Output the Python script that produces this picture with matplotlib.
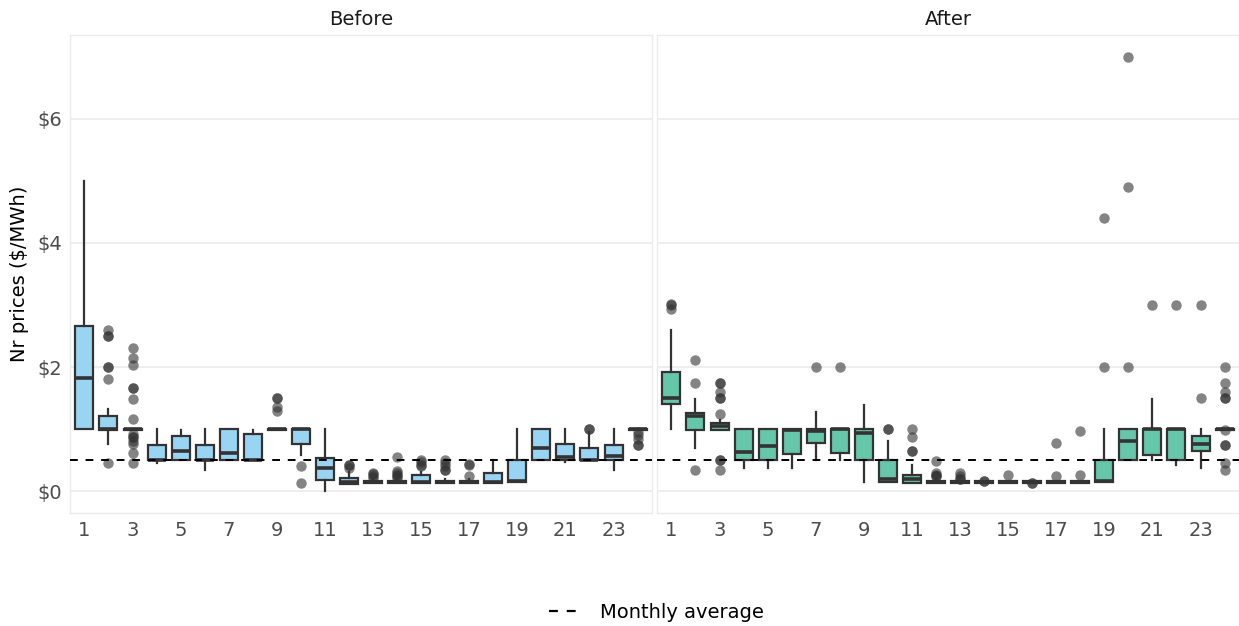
import matplotlib
matplotlib.use("Agg")
import matplotlib.pyplot as plt
from matplotlib.lines import Line2D

hours = list(range(1, 25))

# Before
before_med = [1.83, 1.0, 1.0, 0.5, 0.65, 0.5, 0.62, 0.5, 1.0, 1.0, 0.37, 0.15,
              0.15, 0.15, 0.15, 0.15, 0.15, 0.15, 0.17, 0.7, 0.55, 0.5, 0.57, 1.0]
before_q1 = [1.0, 0.98, 0.98, 0.5, 0.5, 0.5, 0.5, 0.5, 0.98, 0.76, 0.18, 0.12,
             0.13, 0.13, 0.13, 0.13, 0.13, 0.13, 0.15, 0.5, 0.5, 0.5, 0.5, 0.98]
before_q3 = [2.66, 1.21, 1.0, 0.75, 0.89, 0.75, 1.0, 0.93, 1.0, 1.0, 0.54, 0.22,
             0.17, 0.17, 0.27, 0.17, 0.17, 0.30, 0.5, 1.0, 0.76, 0.70, 0.74, 1.0]
before_lo = [1.0, 0.76, 0.98, 0.45, 0.5, 0.34, 0.5, 0.5, 0.98, 0.58, 0.0, 0.12,
             0.13, 0.13, 0.13, 0.13, 0.13, 0.13, 0.15, 0.5, 0.47, 0.5, 0.34, 0.98]
before_hi = [5.0, 1.33, 1.0, 1.0, 0.98, 1.0, 1.0, 0.98, 1.0, 1.0, 1.0, 0.31,
             0.2, 0.2, 0.31, 0.2, 0.2, 0.5, 1.0, 1.0, 1.0, 0.95, 1.0, 1.0]
before_out = [[], [2.6, 2.5, 2.5, 2.0, 2.0, 1.81, 0.45],
              [2.3, 2.14, 2.04, 1.66, 1.66, 1.49, 1.16, 0.93, 0.87, 0.87, 0.81, 0.76, 0.62, 0.45],
              [], [], [], [], [], [1.5, 1.5, 1.36, 1.29], [0.41, 0.14], [],
              [0.42, 0.42, 0.37], [0.3, 0.28, 0.25, 0.22],
              [0.56, 0.33, 0.3, 0.27, 0.24, 0.22], [0.5, 0.47, 0.42, 0.4],
              [0.5, 0.45, 0.4, 0.35, 0.35], [0.44, 0.42, 0.24],
              [], [], [], [], [1.0, 1.0], [], [0.95, 0.9, 0.85, 0.75, 0.75]]

# After
after_med = [1.5, 1.21, 1.05, 0.63, 0.73, 0.98, 0.97, 1.0, 0.94, 0.2, 0.2, 0.15,
             0.15, 0.15, 0.15, 0.15, 0.15, 0.15, 0.17, 0.81, 1.0, 1.0, 0.76, 1.0]
after_q1 = [1.41, 0.98, 0.98, 0.5, 0.5, 0.6, 0.78, 0.62, 0.5, 0.15, 0.14, 0.13,
            0.13, 0.13, 0.13, 0.13, 0.13, 0.13, 0.15, 0.5, 0.58, 0.5, 0.65, 0.98]
after_q3 = [1.92, 1.26, 1.1, 1.0, 1.0, 1.0, 1.0, 1.0, 1.0, 0.5, 0.27, 0.17,
            0.17, 0.17, 0.17, 0.17, 0.17, 0.17, 0.5, 1.0, 1.0, 1.0, 0.89, 1.0]
after_lo = [1.0, 0.69, 0.98, 0.37, 0.37, 0.37, 0.5, 0.5, 0.15, 0.15, 0.14, 0.13,
            0.13, 0.13, 0.13, 0.13, 0.13, 0.13, 0.15, 0.5, 0.5, 0.42, 0.37, 0.98]
after_hi = [2.59, 1.48, 1.15, 1.0, 1.0, 1.0, 1.28, 1.0, 1.39, 0.81, 0.42, 0.2,
            0.17, 0.17, 0.17, 0.17, 0.17, 0.17, 1.0, 1.0, 1.48, 1.0, 1.0, 1.0]
after_out = [[3.02, 3.0, 2.93], [2.11, 1.75, 0.35],
             [1.75, 1.75, 1.6, 1.5, 1.5, 1.25, 0.5, 0.5, 0.35],
             [], [], [], [2.0], [2.0], [], [1.0, 1.0], [1.0, 0.87, 0.65, 0.65],
             [0.48, 0.3, 0.27, 0.25, 0.25], [0.3, 0.25, 0.2, 0.2], [0.17, 0.17],
             [0.27], [0.14, 0.14], [0.77, 0.24], [0.97, 0.26], [4.4, 2.0],
             [7.0, 4.9, 2.0], [3.0], [3.0], [3.0, 1.5],
             [2.0, 1.75, 1.6, 1.5, 1.5, 0.98, 0.75, 0.75, 0.45, 0.35]]

monthly_avg = 0.5

panels = [
    ("Before", "#99D4F2", before_med, before_q1, before_q3, before_lo, before_hi, before_out),
    ("After", "#66C6AA", after_med, after_q1, after_q3, after_lo, after_hi, after_out),
]

fig = plt.figure(figsize=(12.39, 6.26), dpi=100)
grid_c = "#EBEBEB"
dark = "#333333"

lefts = [70 / 1239, 657 / 1239]
width = 582 / 1239
bottom = 1 - 513 / 626
height = (513 - 35) / 626

for i, (title, fill, med, q1, q3, lo, hi, out) in enumerate(panels):
    ax = fig.add_axes([lefts[i], bottom, width, height])
    stats = []
    for k in range(len(hours)):
        stats.append(dict(med=med[k], q1=q1[k], q3=q3[k], whislo=lo[k],
                          whishi=hi[k], fliers=out[k]))
    ax.bxp(stats, positions=hours, widths=0.75, patch_artist=True, showcaps=False,
           boxprops=dict(facecolor=fill, edgecolor=dark, linewidth=1.6),
           medianprops=dict(color=dark, linewidth=2.6),
           whiskerprops=dict(color=dark, linewidth=1.6),
           flierprops=dict(marker="o", markerfacecolor=dark, markeredgecolor="none",
                           markersize=7.5, alpha=0.6))
    ax.axhline(monthly_avg, color="black", ls=(0, (4, 4)), lw=1.4, zorder=5)

    ax.set_xlim(0.4, 24.6)
    ax.set_ylim(-0.35, 7.35)
    ax.set_xticks(range(1, 25, 2))
    ax.set_xticklabels([str(h) for h in range(1, 25, 2)])
    ax.set_yticks([0, 2, 4, 6])
    ax.set_yticklabels(["$0", "$2", "$4", "$6"])
    ax.yaxis.grid(True, color=grid_c, lw=1.2)
    ax.set_axisbelow(True)
    ax.tick_params(length=0, labelsize=14, colors="#4D4D4D", pad=6)
    for s in ax.spines.values():
        s.set_color(grid_c)
        s.set_linewidth(1)
    ax.set_title(title, fontsize=14, color="#1A1A1A", pad=7)
    if i == 0:
        ax.set_ylabel("Nr prices ($/MWh)", fontsize=14, color="black", labelpad=6)
    else:
        ax.tick_params(labelleft=False)

handle = Line2D([], [], color="black", ls=(0, (4, 4)), lw=1.6)
fig.legend([handle], ["Monthly average"], loc="center", bbox_to_anchor=(0.53, 1 - 612 / 626),
           frameon=False, fontsize=14, handlelength=1.8)

fig.savefig("out.png", dpi=100)
